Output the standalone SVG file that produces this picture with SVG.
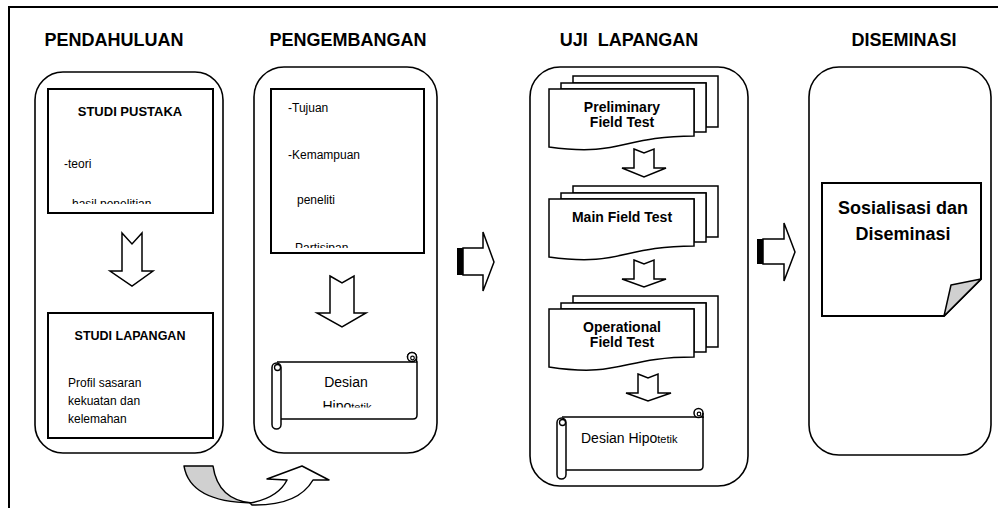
<svg xmlns="http://www.w3.org/2000/svg" width="998" height="508" viewBox="0 0 998 508">
<defs>
<style>
text{font-family:"Liberation Sans",Arial,sans-serif;fill:#000}
.h{font-size:18px;font-weight:bold;text-anchor:middle}
.b{font-weight:bold}
.panel{fill:#fff;stroke:#000;stroke-width:1.6}
.box{fill:#fff;stroke:#000;stroke-width:2}
.ln{fill:#fff;stroke:#000;stroke-width:1.5;stroke-linejoin:miter}
.t12{font-size:12px}
.c{text-anchor:middle}
</style>
<clipPath id="clip1"><rect x="48" y="89" width="165" height="115"/></clipPath>
<clipPath id="clip2"><rect x="271" y="89" width="153" height="159"/></clipPath>
<clipPath id="clip3"><rect x="281" y="362" width="136" height="45.5"/></clipPath>
</defs>
<rect width="998" height="508" fill="#fff"/>
<path d="M9,508 V7 H998" fill="none" stroke="#000" stroke-width="2"/>

<g id="headings">
<text class="h" x="114" y="46">PENDAHULUAN</text>
<text class="h" x="348" y="46">PENGEMBANGAN</text>
<text class="h" x="629" y="46" xml:space="preserve">UJI  LAPANGAN</text>
<text class="h" x="904" y="46">DISEMINASI</text>
</g>

<g id="panel-pendahuluan">
<rect class="panel" x="35" y="72" width="188" height="381" rx="28"/>
</g>
<g id="panel-pengembangan">
<rect class="panel" x="254" y="67" width="183" height="386" rx="30"/>
</g>
<g id="panel-uji">
<rect class="panel" x="530" y="67" width="218" height="419" rx="30"/>
</g>
<g id="panel-diseminasi">
<rect class="panel" x="809" y="67" width="182" height="388" rx="30"/>
</g>

<g id="studi-pustaka">
<rect class="box" x="48" y="89" width="165" height="124"/>
<text class="b c" x="130" y="116" font-size="13">STUDI PUSTAKA</text>
<text class="t12" x="64" y="168">-teori</text>
<text class="t12" x="72" y="208" clip-path="url(#clip1)">hasil penelitian</text>
</g>

<g id="studi-lapangan">
<rect class="box" x="48" y="313" width="165" height="125"/>
<text class="b c" x="130" y="340" font-size="12.5">STUDI LAPANGAN</text>
<text class="t12" x="68" y="387">Profil sasaran</text>
<text class="t12" x="68" y="405">kekuatan dan</text>
<text class="t12" x="68" y="423">kelemahan</text>
</g>

<g id="pengembangan-box">
<rect class="box" x="271" y="89" width="153" height="164"/>
<text class="t12" x="288" y="112">-Tujuan</text>
<text class="t12" x="288" y="159">-Kemampuan</text>
<text class="t12" x="297" y="204">peneliti</text>
<text class="t12" x="295" y="252" clip-path="url(#clip2)">Partisipan</text>
</g>

<g id="desain-hipotetik-1">
<path class="ln" d="M277,362 H417 V415 Q417,419 413,419 H281"/>
<path class="ln" d="M412,362 V357 M407.5,357 A4.5,4.5 0 1 1 416.5,357 V362"/>
<circle cx="412" cy="357" r="4.5" fill="#fff" stroke="#000" stroke-width="1.5"/>
<circle cx="412.5" cy="358" r="1.8" fill="none" stroke="#000" stroke-width="1.2"/>
<rect class="ln" x="272" y="363" width="9" height="66" rx="4.5"/>
<circle cx="277.5" cy="367.5" r="3" fill="none" stroke="#000" stroke-width="1.3"/>
<text class="c" x="346" y="387" font-size="14">Desian</text>
<text class="c" x="347" y="411" font-size="14" clip-path="url(#clip3)">Hipo<tspan font-size="11">tetik</tspan></text>
</g>

<g id="preliminary">
<polygon class="ln" points="573,83 573,76 718,76 718,127 706,127 706,83"/>
<polygon class="ln" points="561,89 561,83 706,83 706,132 694,132 694,89"/>
<path class="ln" d="M549,89 H694 V136 C621.5,136 621.5,157 549,147 Z"/>
<text class="b c" x="622" y="112" font-size="14">Preliminary</text>
<text class="b c" x="622" y="127" font-size="14">Field Test</text>
</g>

<g id="main-field">
<polygon class="ln" points="573,193 573,186 718,186 718,237 706,237 706,193"/>
<polygon class="ln" points="561,199 561,193 706,193 706,242 694,242 694,199"/>
<path class="ln" d="M549,199 H694 V246 C621.5,246 621.5,267 549,257 Z"/>
<text class="b c" x="622" y="222" font-size="14">Main Field Test</text>
</g>

<g id="operational">
<polygon class="ln" points="573,303 573,296 718,296 718,347 706,347 706,303"/>
<polygon class="ln" points="561,309 561,303 706,303 706,352 694,352 694,309"/>
<path class="ln" d="M549,309 H694 V357 C621.5,357 621.5,378 549,367 Z"/>
<text class="b c" x="622" y="332" font-size="14">Operational</text>
<text class="b c" x="622" y="347" font-size="14">Field Test</text>
</g>

<g id="desain-hipotetik-2">
<path class="ln" d="M562,417 H703 V466 Q703,470 699,470 H566"/>
<circle cx="698.5" cy="413" r="4.5" fill="#fff" stroke="#000" stroke-width="1.5"/>
<circle cx="699" cy="414" r="1.8" fill="none" stroke="#000" stroke-width="1.2"/>
<path d="M703,413 V418" stroke="#000" stroke-width="1.5"/>
<rect class="ln" x="557" y="418" width="9" height="61" rx="4.5"/>
<circle cx="562.5" cy="422.5" r="3" fill="none" stroke="#000" stroke-width="1.3"/>
<text x="581" y="443" font-size="14">Desian Hipo<tspan font-size="11">tetik</tspan></text>
</g>

<g id="sosialisasi">
<path class="box" d="M822,183 H981 V279 L944,316 H822 Z"/>
<path d="M981,279 L951,285 L944,316 Z" fill="#d0d0d0" stroke="#000" stroke-width="1.5" stroke-linejoin="round"/>
<text class="b c" x="903" y="214" font-size="18">Sosialisasi dan</text>
<text class="b c" x="903" y="240" font-size="18">Diseminasi</text>
</g>

<g id="connectors">
<polygon class="ln" points="122,233 132,244 142,233 142,271 153,271 132,286 110,271 122,271"/>
<polygon class="ln" points="330,276 342,283 354,276 354,313 366,313 342,327 317,313 330,313"/>
<polygon class="ln" points="634,149 644,153 654,149 654,168 666,168 644,177 622,168 634,168"/>
<polygon class="ln" points="634,260 644,264 654,260 654,279 666,279 644,287 622,279 634,279"/>
<polygon class="ln" points="638,374 648,378 658,374 658,393 671,393 648,401 626,393 638,393"/>
<g id="arrow-to-uji">
<path class="ln" d="M463,248 H483 V232 L494,262 L483,291 V275 H463 Z"/>
<rect x="457" y="248" width="6" height="27" fill="#000"/>
</g>
<g id="arrow-to-diseminasi">
<path class="ln" d="M763,239 H784 V223 L795,252 L784,281 V264 H763 Z"/>
<rect x="757" y="239" width="6" height="25" fill="#000"/>
</g>
<g id="curved-arrow">
<path d="M184,466 L213,466 Q218,500 252,503 Q190,502 184,466 Z" fill="#d0d0d0" stroke="#000" stroke-width="1.5" stroke-linejoin="round"/>
<path d="M250,503 Q278,498 287,480 L267,479 L302,466 L329,480 L313,480 Q298,506 252,505 Z" fill="#fff" stroke="#000" stroke-width="1.5" stroke-linejoin="round"/>
</g>
</g>
</svg>
